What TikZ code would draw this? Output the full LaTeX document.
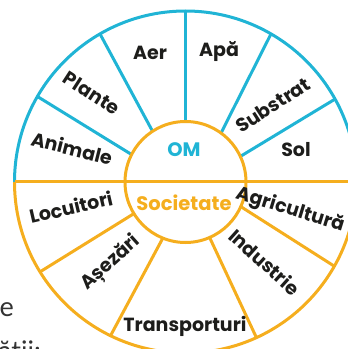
\documentclass[tikz,border=0pt]{standalone}
\usepackage{fontspec}
\setmainfont{Lato}
\newfontfamily\labfont{Poppins}[BoldFont={Poppins Bold}]
\usetikzlibrary{calc}
\definecolor{cy}{HTML}{20B4D5}
\definecolor{og}{HTML}{F5AE1E}
\definecolor{ink}{HTML}{1D1D1B}
\begin{document}
\begin{tikzpicture}[x=1pt,y=1pt,
  lab/.style={font=\labfont\fontsize{19}{19}\selectfont\bfseries, text=ink, inner sep=0pt},
  cen/.style={font=\labfont\fontsize{19.5}{19.5}\selectfont\bfseries, inner sep=0pt},
  rim/.style={line width=3pt},
  page/.style={font=\fontsize{27}{27}\selectfont, text=black!80, inner sep=0pt}]
\useasboundingbox (0,0) rectangle (348,349);
\clip (0,0) rectangle (348,349);
\coordinate (C) at (185.5,167);
\def\R{171}
\def\r{60.5}
% page text fragments
\node[page, anchor=base east] (pe) at (14,32) {e};
\node[page, anchor=base west] (pa) at (-2,-12) {ății:};
% outer arcs
\draw[cy, rim] ($(C)+(\R,0)$) arc[start angle=0, end angle=180, radius=\R];
\draw[og, rim] ($(C)+(-\R,0)$) arc[start angle=180, end angle=360, radius=\R];
% spokes
\foreach \a/\b in {25/29, 54/60, 90/90, 123/120, 153/150}
  \draw[cy, rim] ($(C)+(\a:\r)$) -- ($(C)+(\b:\R)$);
\foreach \a/\b in {-148.5/-148.3, -112/-116, -66.5/-65.5, -24/-29.5}
  \draw[og, rim] ($(C)+(\a:\r)$) -- ($(C)+(\b:\R)$);
% inner circle and horizontal line
\draw[og, rim, fill=white] (C) circle[radius=\r];
\draw[og, rim] ($(C)+(-\R,0)$) -- ($(C)+(\R,0)$);
% labels
\node[cen, text=cy] (om) at (184,199) {OM};
\node[cen, text=og] (soc) at (184,146) {Societate};
\node[lab] (aer) at (150,296) {Aer};
\node[lab] (apa) at (219,297) {Apă};
\node[lab, rotate=-33] (plante) at (92,256) {Plante};
\node[lab, rotate=-14] (animale) at (72,201) {Animale};
\node[lab, rotate=33] (substrat) at (273,244) {Substrat};
\node[lab] (sol) at (296,199) {Sol};
\node[lab, rotate=13] (locuitori) at (71,142) {Locuitori};
\node[lab, rotate=42] (asezari) at (111,86) {Așezări};
\node[lab] (transp) at (185,23) {Transporturi};
\node[lab, rotate=-42] (industrie) at (265,87) {Industrie};
\node[lab, rotate=-17] (agri) at (290,139) {Agricultură};
\end{tikzpicture}
\end{document}
